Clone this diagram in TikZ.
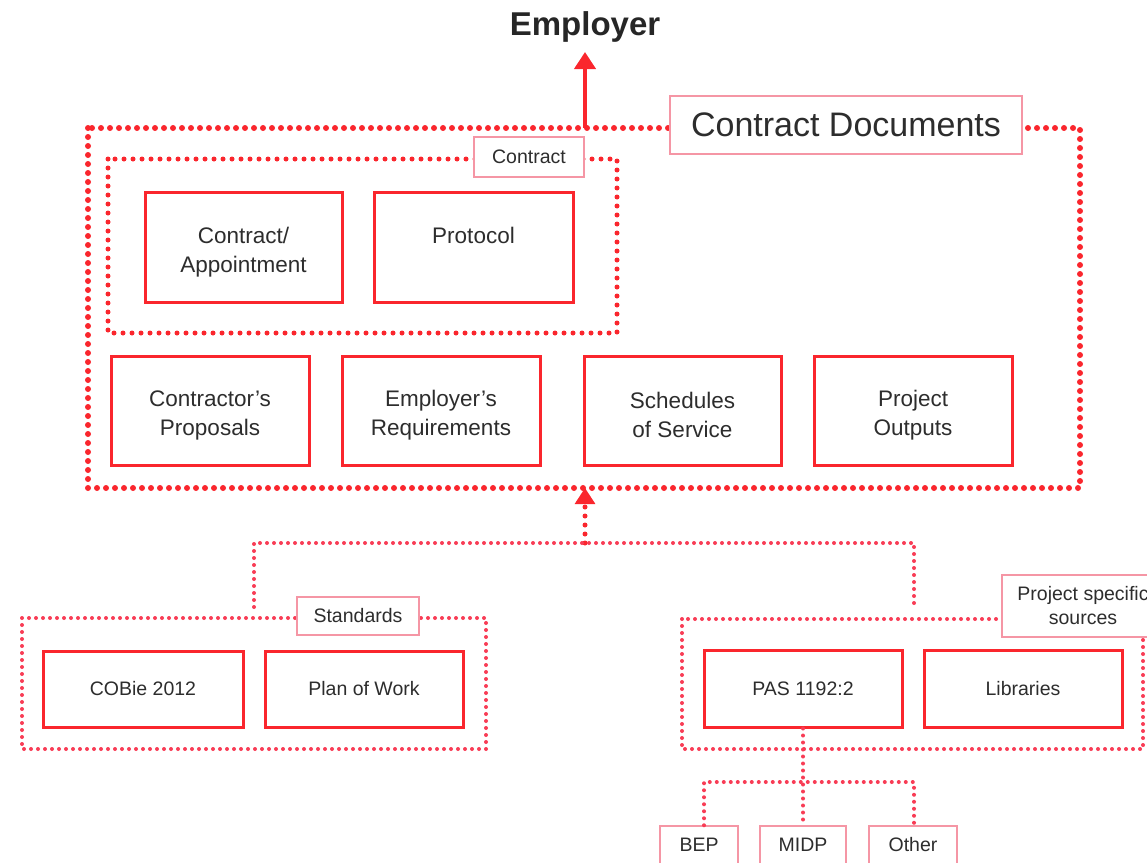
\documentclass[tikz,border=0pt]{standalone}
\usepackage{fontspec}
\setmainfont{Liberation Sans}
\usetikzlibrary{arrows.meta}
\definecolor{cred}{RGB}{250,38,45}
\definecolor{cpink}{RGB}{245,150,165}
\definecolor{cdot}{RGB}{248,60,85}
\definecolor{ctext}{RGB}{45,45,45}
\newcommand\upstrut{\rule{0pt}{26pt}}
\begin{document}
\begin{tikzpicture}[x=1pt,y=-1pt,
  bigbox/.style={draw=cred,line width=3pt,fill=white,inner sep=0pt,text=ctext,
    font=\fontsize{22.5}{29}\selectfont,align=center},
  smallbox/.style={draw=cred,line width=3pt,fill=white,inner sep=0pt,text=ctext,
    font=\fontsize{19.5}{24}\selectfont,align=center},
  tagbox/.style={draw=cpink,line width=1.5pt,fill=white,inner sep=0pt,text=ctext,
    font=\fontsize{19.5}{24}\selectfont,align=center},
  bigdots/.style={draw=cred,line width=6pt,line cap=round,dash pattern=on 0pt off 9pt},
  middots/.style={draw=cred,line width=5pt,line cap=round,dash pattern=on 0pt off 9pt},
  smalldots/.style={draw=cdot,line width=4pt,line cap=round,dash pattern=on 0pt off 7pt},
]
\useasboundingbox (0,0) rectangle (1147,862);

% Employer
\node[font=\bfseries\fontsize{33}{38}\selectfont,text=black!85] (employer) at (585,27) {Employer};
\coordinate (emptip) at (585,52);

% outer container
\draw[bigdots] (88,128) rectangle (1080,488);
\coordinate (outtop) at (585,128);
\draw[cred,line width=4pt,-{Triangle[width=21pt,length=17pt]}] (outtop) -- (emptip);
\node[tagbox,font=\fontsize{34}{40}\selectfont,minimum width=352pt,minimum height=58pt] (cdocs) at (846,125) {Contract Documents};

% inner contract container
\draw[middots] (108,159) rectangle (617,333);
\node[tagbox,minimum width=110pt,minimum height=40pt] (contract) at (529,157) {Contract};

\node[bigbox,minimum width=197pt,minimum height=110pt] (appoint) at (243.5,247) {\upstrut Contract/\\Appointment};
\node[bigbox,minimum width=199pt,minimum height=110pt] (protocol) at (473.5,247) {\upstrut Protocol\\\phantom{Ag}};

\node[bigbox,minimum width=198pt,minimum height=109pt] (cprop) at (210,410.5) {\upstrut Contractor's\\Proposals};
\node[bigbox,minimum width=198pt,minimum height=109pt] (ereq) at (441,410.5) {\upstrut Employer's\\Requirements};
\node[bigbox,minimum width=197pt,minimum height=109pt] (sched) at (682.5,410.5) {\upstrut Schedules\\of Service};
\node[bigbox,minimum width=198pt,minimum height=109pt] (pout) at (913,410.5) {\upstrut Project\\Outputs};

% lower connector
\coordinate (outbot) at (585,488);
\coordinate (jc) at (585,543);
\coordinate (jl) at (254,543);
\coordinate (jr) at (914,543);
\coordinate (stdtop) at (254,607);
\coordinate (prjtop) at (914,605);
\coordinate (arrbase) at (585,505);
\draw[middots] (jc) -- (arrbase);
\draw[cred,line width=3pt,-{Triangle[width=20pt,length=16pt]}] (585,504) -- (outbot);
\draw[smalldots] (stdtop) -- (jl) -- (jr) -- (prjtop);

% Standards group
\draw[smalldots] (22,618) rectangle (486,749);
\node[tagbox,minimum width=122pt,minimum height=38pt] (standards) at (358,616) {Standards};
\node[smallbox,minimum width=200pt,minimum height=76pt] (cobie) at (143,689) {COBie 2012};
\node[smallbox,minimum width=198pt,minimum height=76pt] (pow) at (364,689) {Plan of Work};

% Project specific group
\draw[smalldots] (682,619) rectangle (1143,749);
\node[tagbox,minimum width=162pt,minimum height=62pt] (pss) at (1083,606) {Project specific\\sources};
\node[smallbox,minimum width=198pt,minimum height=77pt] (pas) at (803,688.5) {PAS 1192:2};
\node[smallbox,minimum width=198pt,minimum height=77pt] (libs) at (1023,688.5) {Libraries};

% PAS children
\node[tagbox,minimum width=78pt,minimum height=52pt] (bep) at (699,852) {};
\node[tagbox,minimum width=86pt,minimum height=52pt] (midp) at (803,852) {};
\node[tagbox,minimum width=88pt,minimum height=52pt] (other) at (913,852) {};
\node[text=ctext,font=\fontsize{19.5}{24}\selectfont] (beptext) at (699,845) {BEP};
\node[text=ctext,font=\fontsize{19.5}{24}\selectfont] (midptext) at (803,845) {MIDP};
\node[text=ctext,font=\fontsize{19.5}{24}\selectfont] (othertext) at (913,845) {Other};
\coordinate (hbl) at (704,782);
\coordinate (hbr) at (914,782);
\draw[smalldots] (pas.south) -- (midp.north);
\draw[smalldots] (bep.north -| hbl) -- (hbl) -- (hbr) -- (bep.north -| hbr);
\end{tikzpicture}
\end{document}
